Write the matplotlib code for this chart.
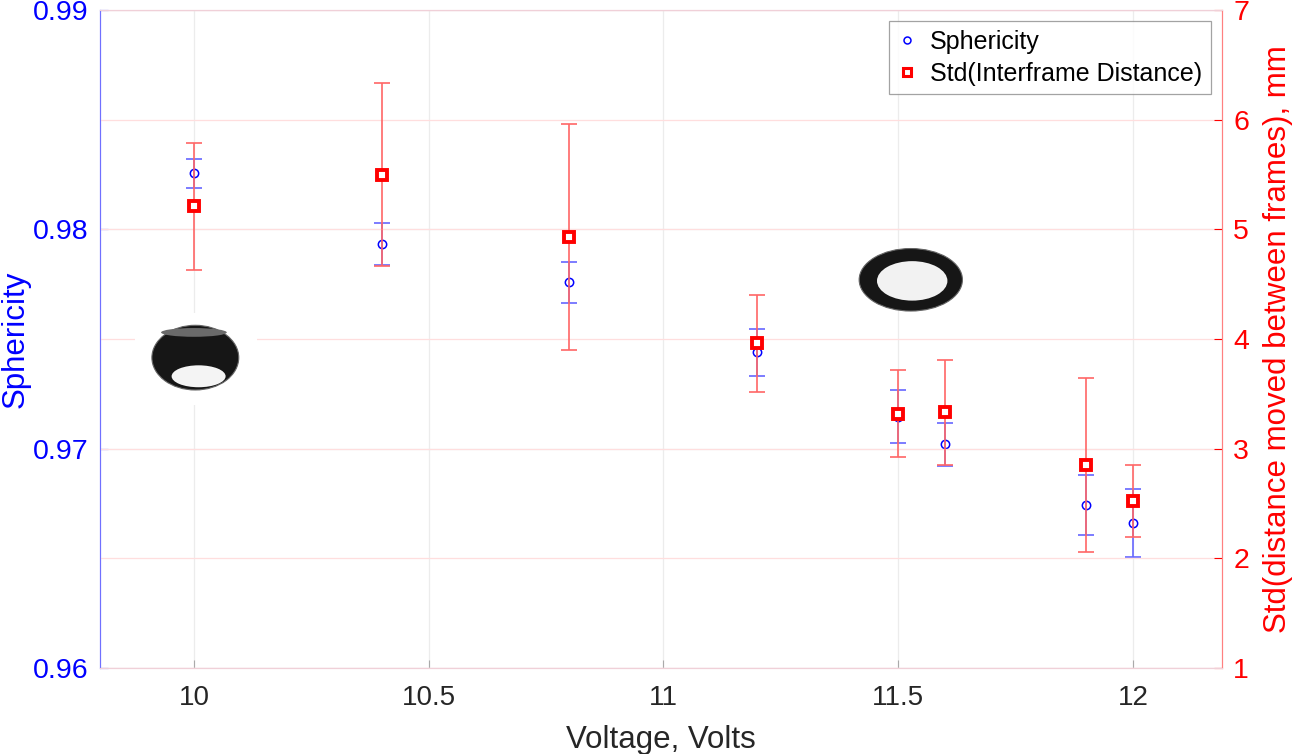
import matplotlib
matplotlib.use('Agg')
import matplotlib.pyplot as plt
from matplotlib.patches import Ellipse, Rectangle
from matplotlib.lines import Line2D
import numpy as np

plt.rcParams['font.family'] = ['Liberation Sans', 'DejaVu Sans']

# values
voltage = [10.0, 10.4, 10.8, 11.2, 11.5, 11.6, 11.9, 12.0]
sphericity = [0.98255, 0.97932, 0.97759, 0.97439, 0.97146, 0.97020, 0.96743, 0.96661]
sph_err = [0.00065, 0.00096, 0.00094, 0.00107, 0.00120, 0.00099, 0.00138, 0.00156]
std_dist = [5.21, 5.50, 4.93, 3.96, 3.32, 3.33, 2.85, 2.52]
std_err = [0.58, 0.835, 1.03, 0.44, 0.40, 0.476, 0.79, 0.33]

x_ticks = [10, 10.5, 11, 11.5, 12]
x_labels = ['10', '10.5', '11', '11.5', '12']
left_ticks = [0.96, 0.97, 0.98, 0.99]
left_labels = ['0.96', '0.97', '0.98', '0.99']
right_ticks = [1, 2, 3, 4, 5, 6, 7]

BLUE = '#0000ff'
RED = '#ff0000'
DARK = '#262626'

fig = plt.figure(figsize=(12.94, 7.54), dpi=100)
ax = fig.add_axes([0.0773, 0.1141, 0.8671, 0.8726])
ax2 = ax.twinx()

ax.set_xlim(9.8, 12.19)
ax.set_ylim(0.96, 0.99)
ax2.set_ylim(1, 7)

# grids
ax.grid(True, color='#ececec', linewidth=0.9, zorder=0)
ax.set_axisbelow(True)
ax2.yaxis.grid(True, color='#ffdede', linewidth=0.9)
ax2.set_axisbelow(True)

# sphericity (left axis)
ax.errorbar(voltage, sphericity, yerr=sph_err, fmt='none', ecolor=(0.4, 0.4, 1.0),
            elinewidth=1.2, capsize=6, capthick=1.2, zorder=3)
ax.plot(voltage, sphericity, 'o', color=BLUE, mfc='none', mew=1.1, ms=6, zorder=4)

# std of interframe distance (right axis)
ax2.errorbar(voltage, std_dist, yerr=std_err, fmt='none', ecolor=(1.0, 0.4, 0.4),
             elinewidth=1.2, capsize=6, capthick=1.2, zorder=3)
ax2.plot(voltage, std_dist, 's', color=RED, mfc='white', mew=2.8, ms=7.5, zorder=4)

# droplet pictures (approximated with shapes)
ax2.add_patch(Rectangle((9.875, 3.4), 0.26, 0.84, facecolor='white', edgecolor='none', zorder=2))
ax2.add_patch(Ellipse((10.003, 3.83), 0.185, 0.59, facecolor='#161616', edgecolor='#666666', lw=0.8, zorder=5))
ax2.add_patch(Ellipse((10.0, 4.06), 0.14, 0.08, facecolor='#6a6a6a', edgecolor='none', zorder=6))
ax2.add_patch(Ellipse((10.01, 3.66), 0.115, 0.20, facecolor='#f4f4f4', edgecolor='none', zorder=6))
ax2.add_patch(Ellipse((11.527, 4.54), 0.22, 0.57, facecolor='#161616', edgecolor='#666666', lw=0.8, zorder=5))
ax2.add_patch(Ellipse((11.53, 4.53), 0.15, 0.36, facecolor='#f2f2f2', edgecolor='none', zorder=6))

# ticks
ax.set_xticks(x_ticks)
ax.set_xticklabels(x_labels)
ax.set_yticks(left_ticks)
ax.set_yticklabels(left_labels)
ax2.set_yticks(right_ticks)
ax.tick_params(axis='x', direction='in', length=6, color='#aaaaaa', labelsize=20,
               labelcolor=DARK, pad=12)
ax.tick_params(axis='y', direction='in', length=6, color=BLUE, labelsize=20.5,
               labelcolor=BLUE, pad=8)
ax2.tick_params(axis='y', direction='in', length=6, color=RED, labelsize=20.5,
                labelcolor=RED, pad=8)

# spines
for a in (ax, ax2):
    a.spines['top'].set_color('#f0d0d8')
    a.spines['bottom'].set_color('#f0d0d8')
    a.spines['left'].set_color('#7070ff')
    a.spines['right'].set_color('#ff8080')

ax.set_xlabel('Voltage, Volts', fontsize=22.5, color=DARK, labelpad=10)
ax.set_ylabel('Sphericity', fontsize=22.5, color=BLUE, labelpad=2)
ax2.set_ylabel('Std(distance moved between frames), mm', fontsize=22.5, color=RED, labelpad=10)

handles = [
    Line2D([], [], marker='o', ls='none', color=BLUE, mfc='none', mew=1.1, ms=5),
    Line2D([], [], marker='s', ls='none', color=RED, mfc='white', mew=2.2, ms=5.5),
]
leg = ax2.legend(handles, ['Sphericity', 'Std(Interframe Distance)'], loc='upper right',
                 fontsize=18, frameon=True, fancybox=False, edgecolor='#8c8c8c',
                 handlelength=0.8, handletextpad=0.5, borderaxespad=0.45,
                 borderpad=0.35, labelspacing=0.3)
leg.get_frame().set_linewidth(0.9)

fig.savefig('out.png', dpi=100)
